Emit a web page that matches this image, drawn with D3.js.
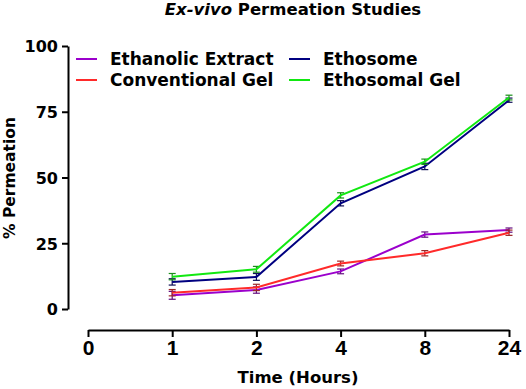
<!DOCTYPE html>
<html>
<head>
<meta charset="utf-8">
<script src="https://cdn.jsdelivr.net/npm/d3@7"></script>
<style>
  body { margin: 0; background: #fff; }
  text { font-family: "DejaVu Sans", sans-serif; font-weight: bold; fill: #000; }
</style>
</head>
<body>
<svg width="526" height="389"></svg>
<script>
// data
const times = ["0", "1", "2", "4", "8", "24"];
const sampleTimes = ["1", "2", "4", "8", "24"];
const seriesNames = ["Ethanolic Extract", "Conventional Gel", "Ethosome", "Ethosomal Gel"];
const seriesColors = ["#9b00cc", "#ff2a2a", "#000080", "#11e811"];
const ethanolicExtract = [5.2, 7.2, 14.3, 28.3, 30.0];
const conventionalGel = [6.2, 8.2, 17.3, 21.2, 29.0];
const ethosome = [10.3, 12.2, 40.2, 54.2, 79.4];
const ethosomalGel = [12.3, 15.1, 43.2, 56.0, 80.4];
const ethanolicErr = [1.5, 1.2, 0.9, 1.0, 0.8];
const conventionalErr = [1.2, 1.2, 0.9, 1.0, 1.0];
const ethosomeErr = [1.2, 1.3, 1.0, 1.2, 0.8];
const ethosomalErr = [1.2, 1.1, 1.0, 1.0, 0.9];
const yTicks = [0, 25, 50, 75, 100];

const svg = d3.select("svg");

const x = d3.scalePoint().domain(times).range([88, 509]);
const y = d3.scaleLinear().domain([0, 100]).range([309, 46]);

// TITLE
const title = svg.append("text")
  .attr("x", 293).attr("y", 15)
  .attr("text-anchor", "middle")
  .style("font-size", "16.5px");
title.append("tspan").style("font-style", "italic").text("Ex-vivo");
title.append("tspan").text(" Permeation Studies");

// Y AXIS
const yAxis = svg.append("g")
  .attr("transform", "translate(68,0)")
  .call(d3.axisLeft(y).tickValues(yTicks).tickSize(6).tickSizeOuter(0).tickPadding(4));
yAxis.select(".domain").attr("stroke-width", 2);
yAxis.selectAll(".tick line").attr("stroke-width", 2);
yAxis.selectAll(".tick text").style("font-size", "16px").attr("dy", "0.36em");

// X AXIS
const xAxis = svg.append("g")
  .attr("transform", "translate(0,330)")
  .call(d3.axisBottom(x).tickSize(7).tickSizeOuter(0).tickPadding(3));
xAxis.select(".domain").attr("stroke-width", 2);
xAxis.selectAll(".tick line").attr("stroke-width", 2);
xAxis.selectAll(".tick text")
  .style("font-family", "'Liberation Sans', Arial, sans-serif")
  .style("font-size", "21px");

// AXIS TITLES
svg.append("text")
  .attr("x", 298).attr("y", 383)
  .attr("text-anchor", "middle")
  .style("font-size", "16.5px")
  .text("Time (Hours)");

svg.append("text")
  .attr("transform", "translate(15,178) rotate(-90)")
  .attr("text-anchor", "middle")
  .style("font-size", "15.5px")
  .text("% Permeation");

// SERIES
const series = [
  { name: seriesNames[0], color: seriesColors[0], values: ethanolicExtract, err: ethanolicErr },
  { name: seriesNames[1], color: seriesColors[1], values: conventionalGel, err: conventionalErr },
  { name: seriesNames[2], color: seriesColors[2], values: ethosome, err: ethosomeErr },
  { name: seriesNames[3], color: seriesColors[3], values: ethosomalGel, err: ethosomalErr }
];

const line = d3.line()
  .x((d, i) => x(sampleTimes[i]))
  .y(d => y(d));

series.forEach(s => {
  const g = svg.append("g");
  const dark = d3.interpolateRgb(s.color, "#222")(0.45);
  const pts = s.values.map((v, i) => ({ t: sampleTimes[i], v: v, e: s.err[i] }));
  const eb = g.selectAll(".err").data(pts).enter().append("g").attr("class", "err");
  eb.append("line")
    .attr("x1", d => x(d.t)).attr("x2", d => x(d.t))
    .attr("y1", d => y(d.v - d.e)).attr("y2", d => y(d.v + d.e))
    .attr("stroke", dark).attr("stroke-width", 1.2);
  [-1, 1].forEach(k => {
    eb.append("line")
      .attr("x1", d => x(d.t) - 3.5).attr("x2", d => x(d.t) + 3.5)
      .attr("y1", d => y(d.v + k * d.e)).attr("y2", d => y(d.v + k * d.e))
      .attr("stroke", dark).attr("stroke-width", 1.2);
  });
  g.append("path")
    .datum(s.values)
    .attr("d", line)
    .attr("fill", "none")
    .attr("stroke", s.color)
    .attr("stroke-width", 2);
});

// LEGEND
const legendX = [76, 289];
const legendY = [59, 80];
series.forEach((s, i) => {
  const col = i < 2 ? 0 : 1, row = i % 2;
  svg.append("line")
    .attr("x1", legendX[col]).attr("x2", legendX[col] + 21)
    .attr("y1", legendY[row]).attr("y2", legendY[row])
    .attr("stroke", s.color).attr("stroke-width", 2);
  svg.append("text")
    .attr("x", legendX[col] + 34).attr("y", legendY[row] + 6)
    .style("font-size", "17px")
    .text(s.name);
});
</script>
</body>
</html>
